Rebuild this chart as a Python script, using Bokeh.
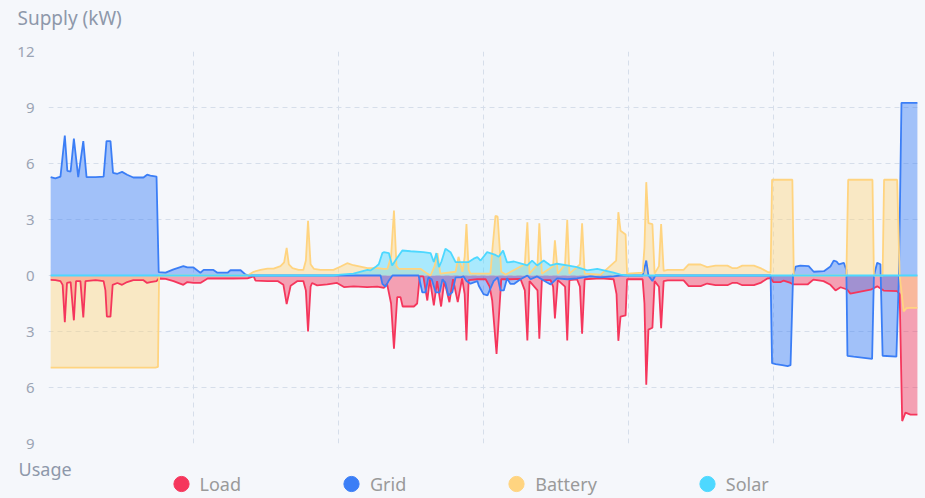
from bokeh.plotting import figure
from bokeh.layouts import column
from bokeh.models import FixedTicker, Label, Legend, LegendItem, Range1d
from bokeh.embed import file_html
from bokeh.resources import INLINE

# ---- data (hours of the day, kW; supply positive, usage negative) ----
grid_h = [0.06,0.19,0.33,0.45,0.52,0.61,0.70,0.82,0.96,1.05,1.30,1.52,1.60,1.71,1.78,1.90,2.03,2.17,2.34,2.62,
          2.72,2.81,2.98,3.04,3.23,3.45,3.72,3.83,4.00,4.19,4.28,4.55,4.66,4.94,5.02,5.30,5.43,5.52,9.16,9.21,
          9.30,9.38,9.49,10.21,10.31,10.40,10.48,10.57,10.68,10.79,10.87,10.95,11.03,11.14,11.23,11.37,11.45,11.53,11.64,11.83,
          11.87,12.00,12.11,12.19,12.28,12.39,12.47,12.56,12.65,12.74,12.84,13.02,13.21,13.30,13.48,13.66,13.85,14.03,14.31,14.58,
          14.95,15.23,15.59,15.78,16.39,16.49,16.55,16.66,16.74,19.92,19.96,20.06,20.24,20.39,20.47,20.54,20.61,20.74,20.97,21.11,
          21.39,21.57,21.66,21.74,21.80,21.94,22.01,22.04,22.21,22.72,22.77,22.86,22.95,23.01,23.39,23.46,23.53,23.97]
grid_kw = [5.27,5.2,5.3,7.5,5.6,5.57,7.33,5.27,7.2,5.27,5.27,5.3,7.2,7.2,5.5,5.45,5.55,5.4,5.25,5.25,
           5.4,5.35,5.3,0.18,0.15,0.33,0.5,0.43,0.43,0.15,0.3,0.3,0.15,0.15,0.28,0.28,0.06,0,0,-0.45,
           -0.6,-0.3,0,0,-0.9,-0.9,-0.1,-0.2,-0.9,-0.9,-0.2,-0.4,-1.07,-0.9,-0.1,-0.1,-0.05,-0.3,-0.44,-0.3,
           -0.55,-1.0,-1.07,-0.7,-0.3,-0.1,-0.8,-0.8,-0.15,-0.45,-0.45,-0.2,0,-0.2,-0.05,-0.27,-0.48,-0.15,-0.2,-0.15,
           -0.05,-0.1,-0.05,0,0,0.8,0,-0.3,0,0,-4.7,-4.75,-4.8,-4.85,-4.8,0,0.47,0.53,0.5,0.2,
           0.23,0.48,0.8,0.75,0.6,0.68,0.3,-4.3,-4.35,-4.47,0,0.68,0.6,-4.3,-4.35,0,9.25,9.25]

load_h = [0.06,0.19,0.33,0.39,0.45,0.51,0.61,0.70,0.76,0.88,0.96,1.02,1.30,1.52,1.57,1.61,1.71,1.77,1.90,2.03,
          2.17,2.34,2.62,2.72,2.81,2.98,3.04,3.23,3.45,3.72,3.83,4.00,4.19,4.39,5.10,5.49,5.66,5.71,6.04,6.32,
          6.48,6.57,6.68,6.87,7.03,7.10,7.16,7.23,7.27,7.41,7.69,7.96,8.15,8.42,8.79,9.07,9.25,9.34,9.45,9.53,
          9.62,9.71,9.77,10.08,10.17,10.24,10.34,10.45,10.52,10.63,10.72,10.83,10.92,11.06,11.16,11.29,11.41,11.48,11.53,11.59,
          11.83,12.06,12.17,12.24,12.36,12.49,12.74,13.02,13.14,13.21,13.27,13.49,13.54,13.61,13.85,13.92,13.97,14.05,14.25,14.31,
          14.37,14.58,14.66,14.72,14.79,15.23,15.59,15.67,15.72,15.78,15.92,15.96,16.06,16.39,16.44,16.49,16.55,16.66,16.72,16.84,
          16.90,16.97,17.08,17.52,17.66,17.99,18.17,18.40,18.73,18.86,19.00,19.14,19.46,19.64,19.83,19.92,20.00,20.19,20.28,20.47,
          20.55,20.94,21.10,21.38,21.57,21.71,21.85,22.03,22.12,22.68,22.86,23.04,23.41,23.48,23.55,23.64,23.78,23.97]
load_kw = [-0.23,-0.25,-0.3,-0.5,-2.5,-0.4,-0.35,-2.4,-0.3,-0.3,-2.25,-0.3,-0.25,-0.3,-0.8,-2.2,-2.2,-0.5,-0.4,-0.5,
           -0.35,-0.25,-0.25,-0.4,-0.35,-0.3,-0.16,-0.18,-0.3,-0.5,-0.35,-0.4,-0.4,-0.16,-0.16,-0.15,-0.05,-0.27,-0.3,-0.3,
           -0.5,-1.53,-0.55,-0.3,-0.3,-0.8,-3.0,-0.6,-0.4,-0.53,-0.48,-0.4,-0.62,-0.58,-0.62,-0.6,-0.66,-0.45,-1.5,-3.92,
           -1.16,-1.16,-1.66,-1.66,-1.5,-0.05,-0.05,-1.34,-0.2,-1.6,-0.3,-1.66,-0.3,-1.43,-0.2,-1.43,-0.15,-1.0,-3.48,-0.25,
           -0.2,-0.2,-0.6,-1.34,-4.2,-0.2,-0.2,-0.18,-0.8,-3.48,-0.3,-0.8,-3.38,-0.25,-0.25,-0.6,-2.3,-0.25,-0.6,-3.48,
           -0.25,-0.2,-0.6,-3.12,-0.2,-0.15,-0.2,-1.0,-3.5,-2.2,-2.14,-0.2,-0.2,-0.2,-1.5,-5.85,-2.9,-2.8,-0.3,-0.6,
           -2.82,-0.3,-0.26,-0.26,-0.57,-0.57,-0.43,-0.52,-0.52,-0.4,-0.4,-0.52,-0.52,-0.4,-0.16,-0.14,-0.36,-0.36,-0.27,-0.4,
           -0.48,-0.48,-0.22,-0.3,-0.5,-0.8,-0.63,-0.75,-0.97,-0.76,-0.58,-0.81,-0.84,-1.0,-7.8,-7.35,-7.45,-7.45]

battery_h = [0.06,2.95,3.02,3.05,5.49,5.66,5.85,6.04,6.21,6.40,6.50,6.57,6.63,6.73,6.90,7.03,7.10,7.16,7.23,7.32,
             7.50,7.86,8.06,8.24,8.41,8.80,9.08,9.24,9.35,9.45,9.53,9.60,9.66,9.77,10.26,10.45,10.54,10.65,10.73,10.81,
             11.23,11.31,11.42,11.48,11.53,11.59,11.64,12.19,12.25,12.33,12.39,12.49,12.61,13.14,13.21,13.27,13.49,13.54,13.61,13.92,
             13.97,14.05,14.25,14.31,14.37,14.66,14.72,14.79,15.23,15.66,15.72,15.78,15.92,15.96,16.39,16.44,16.49,16.55,16.66,16.72,
             16.84,16.90,16.97,17.08,17.52,17.66,17.99,18.17,18.40,18.73,18.86,19.00,19.14,19.46,19.64,19.83,19.92,19.96,20.52,20.56,
             22.01,22.06,22.73,22.77,23.01,23.05,23.41,23.48,23.59,23.67,23.78,23.97]
battery_kw = [-4.94,-4.94,-4.9,0,0,0.2,0.3,0.37,0.37,0.5,0.7,1.48,0.6,0.4,0.3,0.3,0.8,2.93,0.6,0.36,
              0.3,0.3,0.48,0.66,0.55,0.4,0.4,0.36,0.36,1.0,3.48,0.5,0.36,0.36,0.36,0.1,0,0.5,1.2,0.1,
              0.2,1.0,0.2,1.0,2.76,0.3,0.1,0.1,1.5,3.2,3.15,0.2,0.05,0.6,2.85,0.1,0.6,2.8,0.1,0.5,
              1.88,0.1,0.6,2.98,0.1,0.6,2.8,0.1,0.05,0.8,3.39,2.4,2.2,0.1,0.15,1.5,5.0,2.8,2.75,0.1,
              0.5,2.75,0.25,0.3,0.3,0.59,0.59,0.45,0.53,0.53,0.4,0.4,0.53,0.53,0.4,0.2,0.15,5.13,5.13,0,
              0,5.13,5.13,0,0,5.13,5.13,0,-1.92,-1.75,-1.73,-1.73]

solar_h = [0.06,7.86,8.06,8.41,8.80,8.88,9.02,9.11,9.21,9.25,9.39,9.48,9.62,9.76,9.99,10.34,10.54,10.63,10.70,10.77,
           10.84,10.95,11.09,11.23,11.59,11.73,11.83,11.92,12.10,12.33,12.42,12.54,12.65,12.84,13.02,13.21,13.34,13.48,13.66,13.85,
           14.03,14.31,14.58,14.86,15.14,15.41,15.59,15.78,15.96,23.97]
solar_kw = [0,0,0.05,0.1,0.3,0.27,0.45,0.6,1.2,1.25,1.2,0.54,0.95,1.34,1.3,1.25,1.2,0.72,1.2,0.45,
            0.75,1.43,1.25,0.72,0.72,0.9,0.98,0.8,1.25,1.1,1.0,1.34,0.7,0.75,0.65,0.54,0.8,0.54,0.8,0.54,
            0.63,0.54,0.45,0.27,0.36,0.24,0.15,0.05,0,0]

series_names = ["Load", "Grid", "Battery", "Solar"]
series_colors = ["#f5365c", "#3b7ef6", "#ffd480", "#4dd8ff"]

y_ticks = [-9, -6, -3, 0, 3, 6, 9, 12]
y_tick_labels = ["9", "6", "3", "0", "3", "6", "9", "12"]
x_ticks = [0, 4, 8, 12, 16, 20, 24]

BG = "#f5f7fb"
FONT = "Noto Sans"
TEXT_GREY = "#8e98aa"
W = 925


def blank(height):
    f = figure(width=W, height=height, x_range=Range1d(0, 1), y_range=Range1d(0, 1),
               x_axis_type=None, y_axis_type=None, output_backend="svg", toolbar_location=None,
               min_border=0, min_border_left=0, min_border_right=0, min_border_top=0, min_border_bottom=0,
               title=None, frame_align=False)
    f.background_fill_color = BG
    f.border_fill_color = BG
    f.outline_line_color = None
    return f


data = [(load_h, load_kw), (grid_h, grid_kw), (battery_h, battery_kw), (solar_h, solar_kw)]

# ---- header with "Supply (kW)" ----
head = blank(36)
head.add_layout(Label(x=17, y=19, x_units="screen", y_units="screen", text="Supply (kW)",
                      text_font=FONT, text_font_size="19px", text_color=TEXT_GREY,
                      text_baseline="alphabetic"))

# ---- main chart ----
p = figure(width=W, height=417, x_range=Range1d(0, 24), y_range=Range1d(-9, 12),
           output_backend="svg", toolbar_location=None, title=None, frame_align=False,
           min_border_left=48, min_border_right=7, min_border_top=15, min_border_bottom=10)
p.background_fill_color = BG
p.border_fill_color = BG
p.outline_line_color = None
p.xaxis.visible = False
p.xgrid.ticker = FixedTicker(ticks=x_ticks)
p.yaxis.ticker = FixedTicker(ticks=y_ticks)
p.yaxis.major_label_overrides = {t: s for t, s in zip(y_ticks, y_tick_labels)}
p.yaxis.axis_line_color = None
p.yaxis.major_tick_line_color = None
p.yaxis.minor_tick_line_color = None
p.yaxis.major_tick_out = 0
p.yaxis.major_tick_in = 0
p.yaxis.major_label_standoff = 14
p.yaxis.major_label_text_font = FONT
p.yaxis.major_label_text_font_size = "15px"
p.yaxis.major_label_text_color = "#9ba4b4"
p.grid.grid_line_color = "#d6deea"
p.grid.grid_line_dash = "5 4"
p.grid.grid_line_width = 1

for (xs, ys), c in zip(data, series_colors):
    p.varea(x=xs, y1=[0] * len(xs), y2=ys, fill_color=c, fill_alpha=0.45)
for (xs, ys), c in zip(data, series_colors):
    p.line(x=xs, y=ys, line_color=c, line_width=1.8)

# ---- footer with "Usage" and the legend ----
foot = blank(45)
foot.add_layout(Label(x=18, y=30, x_units="screen", y_units="screen", text="Usage",
                      text_font=FONT, text_font_size="18px", text_color=TEXT_GREY,
                      text_baseline="alphabetic"))
items = []
for name, c, (xs, ys) in zip(series_names, series_colors, data):
    # legend-only renderer (hidden): carries the series' first sample
    r = foot.scatter(x=xs[:1], y=ys[:1], marker="circle", size=16, fill_color=c, line_color=c,
                     visible=False)
    items.append(LegendItem(label=name, renderers=[r]))
legend = Legend(items=items, orientation="horizontal", location=(161.5, -5),
                glyph_width=38, glyph_height=39, label_height=39, label_standoff=0,
                spacing=91, padding=0, margin=0,
                label_text_font=FONT, label_text_font_size="18px", label_text_color="#9a9a9a",
                border_line_alpha=0, background_fill_alpha=0, inactive_fill_alpha=0)
foot.add_layout(legend)

page = column(head, p, foot, spacing=0, styles={"background-color": BG})
open("out.html", "w").write(file_html(page, INLINE))
